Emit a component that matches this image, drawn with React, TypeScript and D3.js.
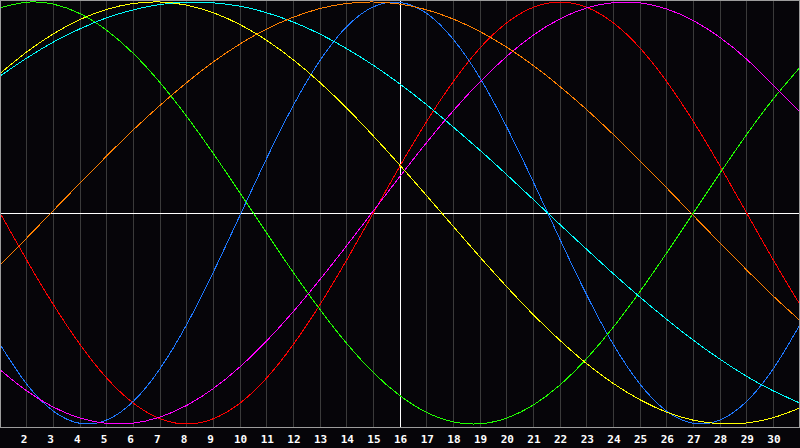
import React, { useRef, useEffect } from "react";
import * as d3 from "d3";

// days shown on the chart (1..31), labels for 2..30
const days = d3.range(1, 32);
const tickDays = d3.range(2, 31);
const today = 16;

// values, one per day, -1..1
const physical = [-0.623, -0.811, -0.939, -0.997, -0.981, -0.893, -0.738, -0.529, -0.280, -0.011, 0.259, 0.510, 0.723, 0.883, 0.977, 0.998, 0.946, 0.823, 0.640, 0.408, 0.147, -0.125, -0.388, -0.623, -0.811, -0.939, -0.997, -0.981, -0.893, -0.738, -0.529];
const emotional = [0, -0.223, -0.434, -0.623, -0.782, -0.901, -0.975, -1, -0.975, -0.901, -0.782, -0.623, -0.434, -0.223, 0, 0.223, 0.434, 0.623, 0.782, 0.901, 0.975, 1, 0.975, 0.901, 0.782, 0.623, 0.434, 0.223, 0, -0.223, -0.434];
const intellectual = [0.972, 0.999, 0.990, 0.945, 0.866, 0.756, 0.618, 0.458, 0.282, 0.095, -0.095, -0.282, -0.458, -0.618, -0.756, -0.866, -0.945, -0.990, -0.999, -0.972, -0.910, -0.815, -0.690, -0.541, -0.372, -0.189, 0, 0.189, 0.372, 0.541, 0.690];
const intuitive = [-0.743, -0.843, -0.920, -0.972, -0.997, -0.996, -0.967, -0.912, -0.832, -0.729, -0.606, -0.467, -0.315, -0.155, 0.010, 0.174, 0.334, 0.485, 0.622, 0.742, 0.843, 0.920, 0.972, 0.997, 0.996, 0.967, 0.912, 0.832, 0.729, 0.606, 0.480];
const aesthetic = [0.661, 0.763, 0.849, 0.917, 0.965, 0.993, 1.000, 0.985, 0.949, 0.893, 0.818, 0.726, 0.618, 0.497, 0.365, 0.226, 0.082, -0.064, -0.209, -0.349, -0.482, -0.604, -0.714, -0.808, -0.885, -0.944, -0.982, -0.999, -0.995, -0.970, -0.924];
const awareness = [-0.247, -0.119, 0.012, 0.142, 0.270, 0.394, 0.510, 0.618, 0.716, 0.801, 0.872, 0.928, 0.969, 0.993, 1.000, 0.990, 0.963, 0.919, 0.860, 0.786, 0.699, 0.599, 0.490, 0.372, 0.247, 0.119, -0.012, -0.142, -0.270, -0.394, -0.510];
const spiritual = [0.649, 0.734, 0.810, 0.873, 0.925, 0.963, 0.988, 0.999, 0.996, 0.980, 0.949, 0.905, 0.848, 0.779, 0.700, 0.611, 0.513, 0.407, 0.297, 0.182, 0.064, -0.055, -0.172, -0.288, -0.399, -0.504, -0.603, -0.693, -0.774, -0.843, -0.901];

const series = [physical, emotional, intellectual, intuitive, aesthetic, spiritual, awareness];
const color_list = ["#1e78ff", "#ff0000", "#20ff00", "#ff00ff", "#ffff00", "#00ffff", "#ff8000"];

const BioChart = () => {
	const svg_ref = useRef(null);
	const width = 800;
	const height = 448;
	const plot_bottom = 427;

	useEffect(() => {
		const svg = d3.select(svg_ref.current);
		svg.selectChildren().remove();

		const x_scale = d3.scaleLinear().domain([1, 31]).range([0, 800]);
		const y_scale = d3.scaleLinear().domain([-1, 1]).range([424, 2]);

		svg.append("rect")
			.attr("width", width)
			.attr("height", height)
			.attr("fill", "#060509");

		// vertical day grid
		svg.append("g")
			.selectAll("line")
			.data(tickDays)
			.join("line")
			.attr("x1", d => Math.floor(x_scale(d)) + 0.5)
			.attr("x2", d => Math.floor(x_scale(d)) + 0.5)
			.attr("y1", 0)
			.attr("y2", plot_bottom)
			.attr("stroke", "#3a3a3a")
			.attr("stroke-width", 1);

		// zero line and today marker
		const y0 = Math.floor(y_scale(0)) + 0.5;
		svg.append("line")
			.attr("x1", 0).attr("x2", width)
			.attr("y1", y0).attr("y2", y0)
			.attr("stroke", "#ffffff");
		svg.append("line")
			.attr("x1", x_scale(today) + 0.5).attr("x2", x_scale(today) + 0.5)
			.attr("y1", 0).attr("y2", plot_bottom)
			.attr("stroke", "#ffffff");

		// curves
		const line = d3.line()
			.x((d, i) => x_scale(days[i]))
			.y(d => y_scale(d))
			.curve(d3.curveNatural);
		svg.append("g")
			.selectAll("path")
			.data(series)
			.join("path")
			.attr("fill", "none")
			.attr("stroke", (d, i) => color_list[i])
			.attr("stroke-width", 1)
			.attr("d", d => line(d));

		// frame
		svg.append("rect")
			.attr("x", 0.5).attr("y", 0.5)
			.attr("width", width - 1).attr("height", plot_bottom)
			.attr("fill", "none")
			.attr("stroke", "#9c9c9c");

		// day labels
		svg.append("g")
			.selectAll("text")
			.data(tickDays)
			.join("text")
			.attr("x", d => x_scale(d) - 6)
			.attr("y", 443)
			.attr("fill", "#ffffff")
			.style("font-family", "'DejaVu Sans Mono', monospace")
			.style("font-weight", "bold")
			.style("font-size", "11px")
			.text(d => d);
	});

	return (
		<svg ref={svg_ref} width={width} height={height}
			shapeRendering="crispEdges"
			style={{ position: "absolute", left: 0, top: 0, display: "block" }}>
		</svg>
	);
};

export default function App() {
	return <BioChart />;
}
